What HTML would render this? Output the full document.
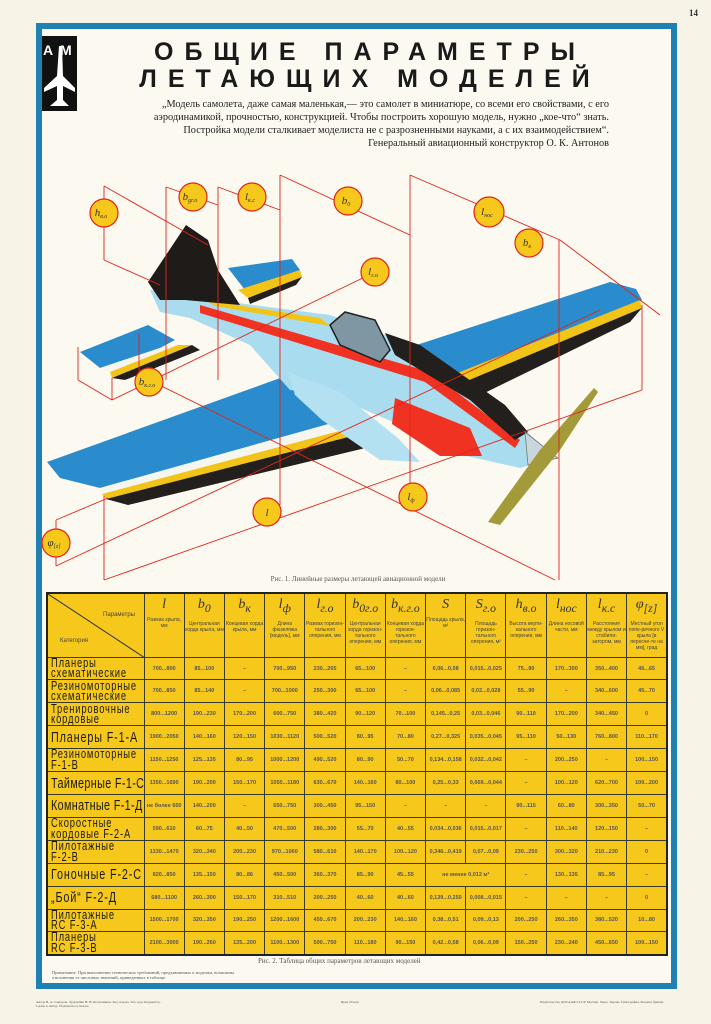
<!DOCTYPE html>
<html><head><meta charset="utf-8">
<style>
*{margin:0;padding:0;box-sizing:border-box}
body{width:711px;height:1024px;background:#f7f3e6;position:relative;overflow:hidden;font-family:"Liberation Sans",sans-serif}
.frame{position:absolute;left:36px;top:23px;width:641px;height:966px;border:6px solid #1f80b4;background:#fbf9f0}
.abs{position:absolute}
.title{position:absolute;left:100px;width:540px;text-align:center;white-space:nowrap;font-family:"Liberation Sans",sans-serif;font-weight:bold;font-size:25px;letter-spacing:11px;color:#1a1a1a}
.quote{position:absolute;left:120px;width:489px;text-align:right;font-family:"Liberation Serif",serif;font-size:10.3px;line-height:13px;color:#222}
table{position:absolute;left:46px;top:592px;width:622px;height:364px;border-collapse:collapse;table-layout:fixed;background:#f6c81c;border:2px solid #222}
tr.r{height:22.9px}
td{border:1px solid #3a3a2a;text-align:center;vertical-align:middle;font-family:"Liberation Sans",sans-serif;font-size:5.5px;font-weight:bold;color:#555;overflow:hidden;padding:0;white-space:nowrap}
td.c{text-align:left;padding-left:3px;color:#1a1a1a;font-weight:normal}
td.c div{display:inline-block;transform:scaleX(0.72);transform-origin:left center;font-size:13px;line-height:10.5px;letter-spacing:1.2px;white-space:nowrap}
td.c div.one{font-size:15px;line-height:15px}
th{border:1px solid #3a3a2a;font-weight:normal;vertical-align:top;font-family:"Liberation Sans",sans-serif;font-size:5px;line-height:6px;color:#444;padding-top:3px;overflow:hidden}
th i{display:block;font-family:"Liberation Serif",serif;font-size:14px;line-height:16px;color:#333;margin-bottom:4px}
.small{font-family:"Liberation Serif",serif;font-size:7px;color:#555;position:absolute}
</style></head><body>
<div class="frame"></div>
<div class="abs" style="left:689px;top:8px;font-family:'Liberation Serif',serif;font-size:9px;font-weight:bold;color:#333">14</div>
<svg class="abs" style="left:42px;top:36px" width="35" height="75" viewBox="0 0 35 75">
<rect x="0" y="0" width="35" height="75" fill="#111"/>
<polygon points="17,10 20,10 21,40 33,52 33,56 21,50 21,64 27,70 8,70 15,64 15,50 2,56 2,52 15,40" fill="#fff"/>
<text x="1" y="19" font-family="Liberation Sans" font-weight="bold" font-size="14" fill="#fff">А</text>
<text x="18" y="19" font-family="Liberation Sans" font-weight="bold" font-size="14" fill="#fff">М</text>
</svg>
<div class="title" style="top:38px">ОБЩИЕ ПАРАМЕТРЫ</div>
<div class="title" style="top:65px">ЛЕТАЮЩИХ МОДЕЛЕЙ</div>
<div class="quote" style="top:98px">„Модель самолета, даже самая маленькая,— это самолет в миниатюре, со всеми его свойствами, с его аэродинамикой, прочностью, конструкцией. Чтобы построить хорошую модель, нужно „кое-что“ знать. Постройка модели сталкивает моделиста не с разрозненными науками, а с их взаимодействием“.</div>
<div class="quote" style="top:137px">Генеральный авиационный конструктор О. К. Антонов</div>

<svg class="abs" style="left:0;top:0" width="711" height="590" viewBox="0 0 711 590">
<!-- far wing -->
<polygon points="395,352 610,282 636,289 642,300 445,388 420,390" fill="#2a8ccd"/>
<polygon points="445,378 640,300 642,308 450,388" fill="#f2c418"/>
<polygon points="450,388 642,308 630,322 462,404" fill="#231f1c"/>
<!-- far stab -->
<polygon points="228,268 292,259 300,270 245,290" fill="#2a8ccd"/>
<polygon points="238,290 300,270 302,277 248,298" fill="#f2c418"/>
<polygon points="248,298 302,277 296,285 250,304" fill="#231f1c"/>
<!-- near wing -->
<polygon points="47,462 283,377 295,380 330,400 350,418 100,488 60,478" fill="#2a8ccd"/>
<polygon points="100,488 350,418 362,425 102,494" fill="#f6f6f0"/>
<polygon points="102,494 362,425 368,432 106,499" fill="#f2c418"/>
<polygon points="106,499 368,432 378,445 128,505" fill="#231f1c"/>
<!-- fuselage -->
<polygon points="150,290 215,300 330,315 400,340 480,390 525,430 555,458 520,468 440,450 400,425 330,395 290,390 250,345 190,318 160,312" fill="#a9dcef"/>
<polygon points="288,372 340,392 398,438 420,462 380,460 322,420 295,395" fill="#b4e1f1"/>
<polygon points="200,305 430,372 520,440 515,448 425,382 200,313" fill="#f03222"/>
<polygon points="395,398 470,428 482,456 440,456 392,424" fill="#f03222"/>
<polygon points="385,333 420,345 505,405 528,432 515,440 470,400 395,355" fill="#231f1c"/>
<polygon points="205,300 320,318 330,326 215,306" fill="#f2c418"/>
<!-- fin -->
<polygon points="148,282 186,225 208,240 218,270 240,305 185,300 160,300" fill="#1e1b19"/>
<!-- canopy -->
<polygon points="330,325 345,312 375,320 390,350 380,362 340,345" fill="#7f97a3" stroke="#222" stroke-width="1.5"/>
<!-- near stab -->
<polygon points="80,352 148,325 175,340 160,348 100,368" fill="#2a8ccd"/>
<polygon points="100,368 160,348 178,345 110,372" fill="#f6f6f0"/>
<polygon points="110,372 178,345 192,345 112,378" fill="#f2c418"/>
<polygon points="112,378 192,345 200,350 125,380" fill="#231f1c"/>
<!-- spinner + prop -->
<polygon points="525,432 558,458 528,465" fill="#c9d6dc" stroke="#777" stroke-width="0.8"/>
<polygon points="594,388 598,392 560,450 500,525 488,522 540,450" fill="#a39a3a"/>
<!-- dimension lines -->
<g stroke="#e2231a" stroke-width="0.9" fill="none">
<line x1="104" y1="186" x2="104" y2="260"/>
<line x1="104" y1="186" x2="208" y2="245"/><line x1="104" y1="260" x2="160" y2="285"/>
<line x1="166" y1="187" x2="166" y2="380"/><line x1="218" y1="187" x2="218" y2="380"/>
<line x1="166" y1="187" x2="218" y2="205"/>
<line x1="218" y1="187" x2="280" y2="210"/><line x1="280" y1="175" x2="280" y2="505"/>
<line x1="280" y1="175" x2="410" y2="235"/><line x1="410" y1="175" x2="410" y2="500"/>
<line x1="410" y1="175" x2="560" y2="240"/><line x1="559" y1="240" x2="559" y2="580"/>
<line x1="560" y1="240" x2="660" y2="315"/><line x1="642" y1="305" x2="642" y2="390"/>
<line x1="78" y1="347" x2="78" y2="380"/><line x1="112" y1="378" x2="112" y2="400"/>
<line x1="78" y1="380" x2="112" y2="400"/><line x1="112" y1="400" x2="375" y2="272"/>
<line x1="139" y1="333" x2="139" y2="375"/><line x1="139" y1="375" x2="555" y2="580"/>
<line x1="104" y1="496" x2="104" y2="580"/><line x1="104" y1="580" x2="642" y2="390"/>
<line x1="56" y1="520" x2="108" y2="498"/><line x1="56" y1="566" x2="600" y2="310"/>
<line x1="56" y1="520" x2="56" y2="566"/>
</g>
<g fill="#f6c81c" stroke="#e2231a" stroke-width="1.2">
<circle cx="104" cy="213" r="14"/><circle cx="193" cy="197" r="14"/><circle cx="252" cy="197" r="14"/>
<circle cx="348" cy="201" r="14"/><circle cx="489" cy="212" r="15"/><circle cx="529" cy="243" r="14"/>
<circle cx="375" cy="272" r="14"/><circle cx="149" cy="382" r="14"/><circle cx="413" cy="497" r="14"/>
<circle cx="267" cy="512" r="14"/><circle cx="56" cy="543" r="14"/>
</g>
<g font-family="Liberation Serif" font-style="italic" font-size="11" fill="#333" text-anchor="middle">
<text x="101" y="216">h<tspan font-size="6" dy="2">в.о</tspan></text>
<text x="190" y="200">b<tspan font-size="6" dy="2">gr.o</tspan></text>
<text x="250" y="200">l<tspan font-size="6" dy="2">к.с</tspan></text>
<text x="346" y="204">b<tspan font-size="6" dy="2">0</tspan></text>
<text x="487" y="215">l<tspan font-size="6" dy="2">нос</tspan></text>
<text x="527" y="246">b<tspan font-size="6" dy="2">к</tspan></text>
<text x="373" y="275">l<tspan font-size="6" dy="2">г.о</tspan></text>
<text x="147" y="385">b<tspan font-size="6" dy="2">к.г.о</tspan></text>
<text x="411" y="500">l<tspan font-size="6" dy="2">ф</tspan></text>
<text x="267" y="516">l</text>
<text x="54" y="546">φ<tspan font-size="6" dy="2">[z]</tspan></text>
</g>
<text x="358" y="581" font-family="Liberation Serif" font-size="7" fill="#555" text-anchor="middle">Рис. 1. Линейные размеры летающей авиационной модели</text>
</svg>

<table>
<colgroup><col style="width:97px"><col span="13"></colgroup>
<tr style="height:64px">
<th style="position:relative;padding:0"><svg width="97" height="64" style="position:absolute;left:0;top:0"><line x1="0" y1="0" x2="97" y2="64" stroke="#333" stroke-width="1"/><text x="55" y="22" font-size="6" fill="#444" font-family="Liberation Sans">Параметры</text><text x="12" y="48" font-size="6" fill="#444" font-family="Liberation Sans">Категория</text></svg></th>
<th><i>l</i>Размах крыла, мм</th>
<th><i>b<sub>0</sub></i>Центральная хорда крыла, мм</th>
<th><i>b<sub>к</sub></i>Концевая хорда крыла, мм</th>
<th><i>l<sub>ф</sub></i>Длина фюзеляжа [модель], мм</th>
<th><i>l<sub>г.о</sub></i>Размах горизон-тального оперения, мм</th>
<th><i>b<sub>0г.о</sub></i>Центральная хорда горизон-тального оперения, мм</th>
<th><i>b<sub>к.г.о</sub></i>Концевая хорда горизон-тального оперения, мм</th>
<th><i>S</i>Площадь крыла, м²</th>
<th><i>S<sub>г.о</sub></i>Площадь горизон-тального оперения, м²</th>
<th><i>h<sub>в.о</sub></i>Высота верти-кального оперения, мм</th>
<th><i>l<sub>нос</sub></i>Длина носовой части, мм</th>
<th><i>l<sub>к.с</sub></i>Расстояние между крылом и стабили-затором, мм</th>
<th><i>φ<sub>[z]</sub></i>Местный угол попе-речного V крыла [в пересче-те на мм], град</th>
</tr>
<tr class="r"><td class="c"><div>Планеры<br>схематические</div></td><td>700...800</td><td>85...100</td><td>–</td><td>700...950</td><td>230...265</td><td>65...100</td><td>–</td><td>0,06...0,08</td><td>0,015...0,025</td><td>75...80</td><td>170...300</td><td>350...400</td><td>45...65</td></tr>
<tr class="r"><td class="c"><div>Резиномоторные<br>схематические</div></td><td>700...850</td><td>85...140</td><td>–</td><td>700...1000</td><td>250...300</td><td>65...100</td><td>–</td><td>0,06...0,085</td><td>0,02...0,028</td><td>55...90</td><td>–</td><td>340...600</td><td>45...70</td></tr>
<tr class="r"><td class="c"><div>Тренировочные<br>кордовые</div></td><td>800...1200</td><td>190...230</td><td>170...200</td><td>600...750</td><td>380...420</td><td>90...120</td><td>70...100</td><td>0,145...0,25</td><td>0,03...0,046</td><td>90...110</td><td>170...200</td><td>340...450</td><td>0</td></tr>
<tr class="r"><td class="c"><div class="one">Планеры F-1-A</div></td><td>1900...2050</td><td>140...160</td><td>120...150</td><td>1030...1120</td><td>500...520</td><td>80...95</td><td>70...80</td><td>0,27...0,325</td><td>0,035...0,045</td><td>95...110</td><td>50...130</td><td>760...800</td><td>110...170</td></tr>
<tr class="r"><td class="c"><div>Резиномоторные<br>F-1-B</div></td><td>1150...1250</td><td>125...135</td><td>80...95</td><td>1000...1200</td><td>490...520</td><td>80...90</td><td>50...70</td><td>0,134...0,158</td><td>0,032...0,042</td><td>–</td><td>200...250</td><td>–</td><td>100...150</td></tr>
<tr class="r"><td class="c"><div class="one" style="letter-spacing:0.5px">Таймерные F-1-C</div></td><td>1350...1690</td><td>190...200</td><td>150...170</td><td>1050...1180</td><td>630...670</td><td>140...160</td><td>80...100</td><td>0,25...0,33</td><td>0,069...0,044</td><td>–</td><td>100...120</td><td>620...700</td><td>100...200</td></tr>
<tr class="r"><td class="c"><div class="one" style="letter-spacing:0.5px">Комнатные F-1-Д</div></td><td>не более 650</td><td>140...200</td><td>–</td><td>650...750</td><td>300...450</td><td>95...150</td><td>–</td><td>–</td><td>–</td><td>90...115</td><td>60...80</td><td>300...350</td><td>50...70</td></tr>
<tr class="r"><td class="c"><div>Скоростные<br>кордовые F-2-A</div></td><td>590...610</td><td>60...75</td><td>40...50</td><td>470...500</td><td>280...300</td><td>55...70</td><td>40...55</td><td>0,034...0,036</td><td>0,015...0,017</td><td>–</td><td>110...140</td><td>120...150</td><td>–</td></tr>
<tr class="r"><td class="c"><div>Пилотажные<br>F-2-B</div></td><td>1330...1470</td><td>320...340</td><td>200...230</td><td>970...1060</td><td>580...610</td><td>140...170</td><td>100...120</td><td>0,346...0,419</td><td>0,07...0,09</td><td>230...250</td><td>300...320</td><td>210...230</td><td>0</td></tr>
<tr class="r"><td class="c"><div class="one">Гоночные F-2-C</div></td><td>820...850</td><td>135...150</td><td>80...86</td><td>450...500</td><td>360...370</td><td>85...90</td><td>45...55</td><td colspan="2">не менее 0,012 м²</td><td>–</td><td>130...135</td><td>85...95</td><td>–</td></tr>
<tr class="r"><td class="c"><div class="one">„Бой“ F-2-Д</div></td><td>680...1100</td><td>260...300</td><td>150...170</td><td>310...510</td><td>200...250</td><td>40...60</td><td>40...60</td><td>0,139...0,250</td><td>0,008...0,015</td><td>–</td><td>–</td><td>–</td><td>0</td></tr>
<tr class="r"><td class="c"><div>Пилотажные<br>RC F-3-A</div></td><td>1500...1700</td><td>320...350</td><td>190...250</td><td>1200...1600</td><td>450...670</td><td>200...230</td><td>140...160</td><td>0,38...0,51</td><td>0,09...0,13</td><td>200...250</td><td>260...350</td><td>380...520</td><td>10...80</td></tr>
<tr class="r"><td class="c"><div>Планеры<br>RC F-3-B</div></td><td>2100...3000</td><td>190...260</td><td>135...200</td><td>1100...1300</td><td>500...750</td><td>110...180</td><td>90...150</td><td>0,42...0,58</td><td>0,06...0,09</td><td>150...250</td><td>230...240</td><td>450...650</td><td>100...150</td></tr>
</table>
<div class="small" style="left:258px;top:957px">Рис. 2. Таблица общих параметров летающих моделей</div>
<div class="small" style="left:52px;top:970px;font-size:4.5px;line-height:5px;width:200px">Примечание. При выполнении технических требований, предъявляемых к моделям, возможны отклонения от числовых значений, приведенных в таблице.</div>
<div class="small" style="left:36px;top:1000px;font-size:3.5px;line-height:4px;width:130px">Автор В. А. Сидоров. Художник Н. В. Колесников. Ред. изд-ва. Тех. ред. Корректор. Сдано в набор. Подписано в печать</div>
<div class="small" style="left:330px;top:1000px;font-size:3.5px;line-height:4px;width:40px;text-align:center">Цена 20 коп.</div>
<div class="small" style="left:540px;top:1000px;font-size:3.5px;line-height:4px;width:135px">Издательство ДОСААФ СССР. Москва. Заказ. Тираж. Типография. Формат бумаги.</div>
</body></html>
